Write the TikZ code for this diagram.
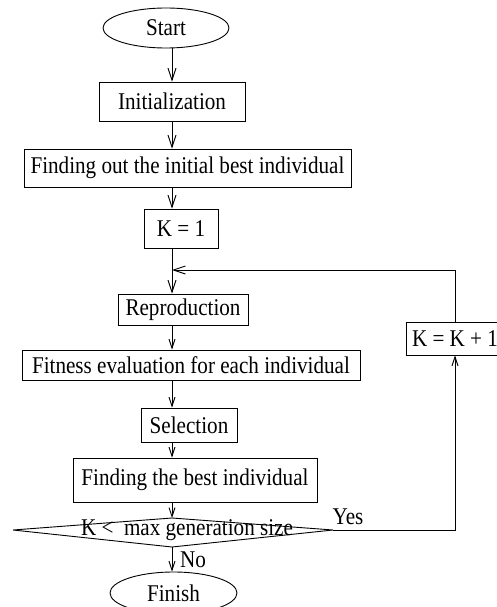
\documentclass[tikz,border=0pt]{standalone}
\usepackage{fontspec}
\setmainfont{Liberation Serif}[FakeStretch=0.88]
\usetikzlibrary{arrows.meta,shapes.geometric}
\tikzset{
  every node/.style={font=\fontsize{24}{27}\selectfont, inner sep=0pt},
  boxnode/.style={draw, rectangle, line width=0.9pt},
  ovalnode/.style={draw, ellipse, line width=0.9pt},
  conn/.style={line width=0.9pt, -{Straight Barb[length=12pt,width=8pt]}},
  connsm/.style={line width=0.9pt, -{Straight Barb[length=9pt,width=6pt]}},
  lbl/.style={font=\fontsize{24}{27}\selectfont}
}
\begin{document}
\begin{tikzpicture}[x=1pt,y=-1pt]
\useasboundingbox (0,0) rectangle (497,607);
\coordinate (ax) at (172,0);
\coordinate (rx) at (455,0);

\node[ovalnode, minimum width=126pt, minimum height=40pt] (start) at (166,28) {Start};
\node[boxnode, minimum width=146pt, minimum height=39pt] (init) at (172,101.5) {Initialization};
\node[boxnode, minimum width=327pt, minimum height=38pt] (findout) at (187.5,168) {Finding out the initial best individual};
\node[boxnode, minimum width=74pt, minimum height=39pt] (k1) at (181,228.5) {K = 1};
\node[boxnode, minimum width=130pt, minimum height=31pt] (rep) at (183,309.5) {Reproduction};
\node[boxnode, minimum width=98pt, minimum height=33pt] (kk) at (455,338.5) {K = K + 1};
\node[boxnode, minimum width=338pt, minimum height=30pt] (fit) at (191,365) {Fitness evaluation for each individual};
\node[boxnode, minimum width=96pt, minimum height=34pt] (sel) at (189,425) {Selection};
\node[boxnode, minimum width=244pt, minimum height=44pt] (best) at (195,480) {Finding the best individual};

\coordinate (dl) at (13,530);
\coordinate (dt) at (172,518);
\coordinate (dr) at (333,530);
\coordinate (db) at (172,547);
\draw[line width=0.9pt] (dl) -- (dt) -- (dr) -- (db) -- cycle;
\node (cond) at (187,530) {K <\ \ max generation size};

\node[ovalnode, minimum width=127pt, minimum height=42pt] (finish) at (173.5,593) {Finish};

\node[lbl] (yes) at (348,517) {Yes};
\node[lbl] (no) at (193,560) {No};

\draw[conn] (start.south -| ax) -- (init.north -| ax);
\draw[conn] (init.south -| ax) -- (findout.north -| ax);
\draw[conn] (findout.south -| ax) -- (k1.north -| ax);
\draw[conn] (k1.south -| ax) -- (rep.north -| ax);
\draw[connsm] (rep.south -| ax) -- (fit.north -| ax);
\draw[connsm] (fit.south -| ax) -- (sel.north -| ax);
\draw[connsm] (sel.south -| ax) -- (best.north -| ax);
\draw[connsm] (best.south -| ax) -- (dt);
\draw[connsm] (db) -- (finish.north -| ax);
\draw[connsm] (dr) -- (dr -| rx) -- (kk.south);
\coordinate (looptop) at (455,270);
\draw[conn] (kk.north) -- (looptop) -- (looptop -| ax);
\end{tikzpicture}
\end{document}
